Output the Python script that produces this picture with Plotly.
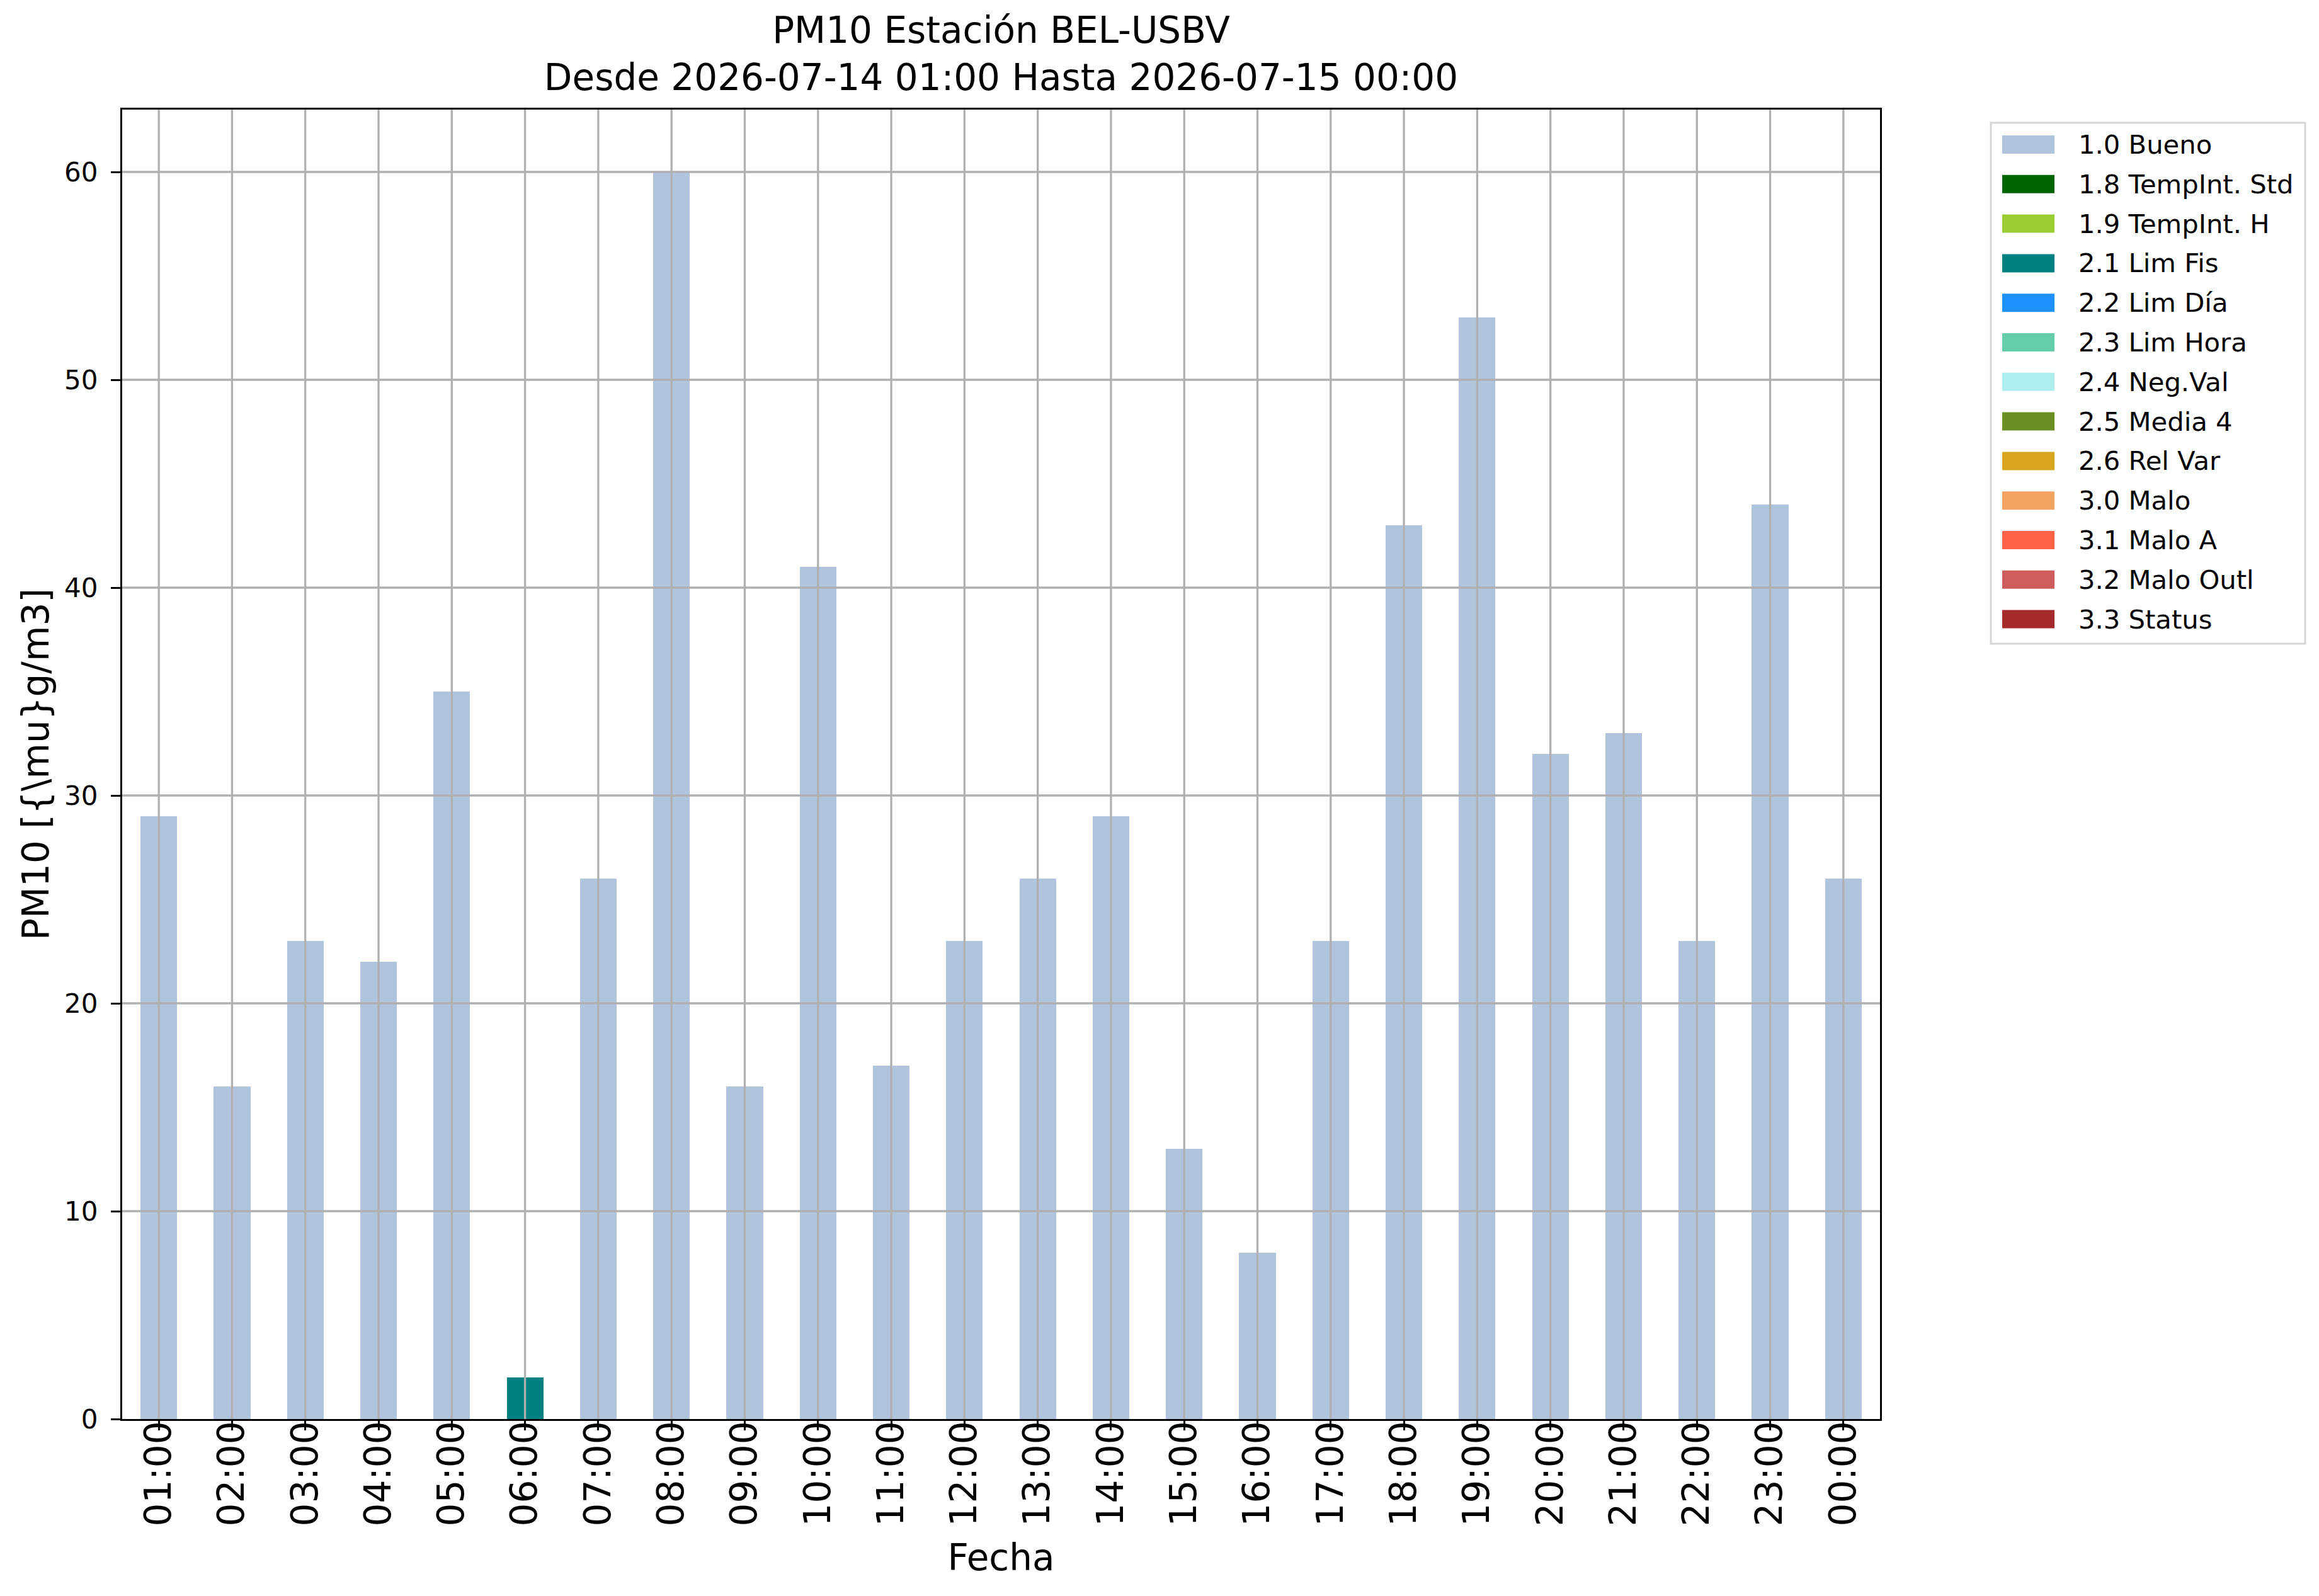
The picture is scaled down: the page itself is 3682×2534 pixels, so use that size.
import plotly.graph_objects as go

# datos horarios PM10 (ug/m3), uno por hora
hours = ["01:00", "02:00", "03:00", "04:00", "05:00", "06:00", "07:00", "08:00",
         "09:00", "10:00", "11:00", "12:00", "13:00", "14:00", "15:00", "16:00",
         "17:00", "18:00", "19:00", "20:00", "21:00", "22:00", "23:00", "00:00"]
bueno = [29, 16, 23, 22, 35, None, 26, 60, 16, 41, 17, 23,
         26, 29, 13, 8, 23, 43, 53, 32, 33, 23, 44, 26]
lim_fis = [None, None, None, None, None, 2, None, None, None, None, None, None,
           None, None, None, None, None, None, None, None, None, None, None, None]

flags = ["1.0 Bueno", "1.8 TempInt. Std", "1.9 TempInt. H", "2.1 Lim Fis",
         "2.2 Lim Día", "2.3 Lim Hora", "2.4 Neg.Val", "2.5 Media 4",
         "2.6 Rel Var", "3.0 Malo", "3.1 Malo A", "3.2 Malo Outl", "3.3 Status"]
flag_colors = ["#B0C4DE", "#006400", "#9ACD32", "#008080", "#1E90FF", "#66CDAA",
               "#AFEEEE", "#6B8E23", "#DAA520", "#F4A460", "#FF6347", "#CD5C5C",
               "#A52A2A"]
series = {"1.0 Bueno": bueno, "2.1 Lim Fis": lim_fis}

y_ticks = [0, 10, 20, 30, 40, 50, 60]

title = "PM10 Estación BEL-USBV<br>Desde 2026-07-14 01:00 Hasta 2026-07-15 00:00"

W, H = 3682, 2534
X0, X1, Y0, Y1 = 186, 2977, 166, 2245  # caja del grafico en px
FONT = "DejaVu Sans"
GRID = "#b0b0b0"
LW = 3.3


def px_x(x):
    return (x - X0) / (X1 - X0)


def px_y(y):
    return (Y1 - y) / (Y1 - Y0)


fig = go.Figure()
for flag, color in zip(flags, flag_colors):
    if flag not in series:
        continue
    fig.add_trace(go.Bar(x=hours, y=series[flag], name=flag, width=0.5,
                         marker=dict(color=color, line=dict(width=0)),
                         showlegend=False))

# grid por encima de las barras, como en matplotlib
for i in range(len(hours)):
    fig.add_shape(type="line", xref="x", yref="paper", x0=i, x1=i, y0=0, y1=1,
                  line=dict(color=GRID, width=LW), layer="above")
for v in y_ticks[1:]:
    fig.add_shape(type="line", xref="paper", yref="y", x0=0, x1=1, y0=v, y1=v,
                  line=dict(color=GRID, width=LW), layer="above")

# leyenda a mano (los cuadritos de plotly salen muy chicos)
row0, step = 221.5, 62.8
fig.add_shape(type="rect", xref="paper", yref="paper",
              x0=px_x(3153), x1=px_x(3652), y0=px_y(187), y1=px_y(1014),
              line=dict(color="#d6d6d6", width=3), fillcolor="white", layer="above")
for i, (flag, color) in enumerate(zip(flags, flag_colors)):
    cy = row0 + i * step
    fig.add_shape(type="rect", xref="paper", yref="paper",
                  x0=px_x(3171), x1=px_x(3254), y0=px_y(cy + 14.5), y1=px_y(cy - 14.5),
                  line=dict(width=0), fillcolor=color, layer="above")
    fig.add_annotation(text=flag, xref="paper", yref="paper", x=px_x(3290), y=px_y(cy),
                       xanchor="left", yanchor="middle", showarrow=False,
                       font=dict(family=FONT, size=41.7, color="black"))

axis_common = dict(showline=True, mirror=True, linecolor="black", linewidth=LW,
                   ticks="outside", ticklen=15, tickwidth=LW, tickcolor="black",
                   showgrid=False, zeroline=False, layer="above traces")

fig.update_layout(
    width=W, height=H,
    margin=dict(l=X0, r=W - X1, t=Y0, b=H - Y1, autoexpand=False),
    paper_bgcolor="white", plot_bgcolor="white",
    font=dict(family=FONT, color="black"),
    barmode="stack",
    showlegend=False,
    title=dict(text=title, x=0.5, xref="paper", xanchor="center",
               y=1 - 60 / H, yref="container", yanchor="top",
               font=dict(family=FONT, size=58, color="black")),
    xaxis=dict(type="category", range=[-0.5, len(hours) - 0.5], tickangle=-90,
               tickfont=dict(size=58), automargin=False, ticklabelstandoff=-38,
               title=dict(text="Fecha", font=dict(size=58), standoff=30),
               **axis_common),
    yaxis=dict(range=[0, 63], tickvals=y_ticks, tickfont=dict(size=42),
               automargin=False, ticklabelstandoff=12,
               title=dict(text=r"PM10 [{\mu}g/m3]", font=dict(size=58), standoff=6),
               **axis_common),
)

fig.write_html("out.html")
